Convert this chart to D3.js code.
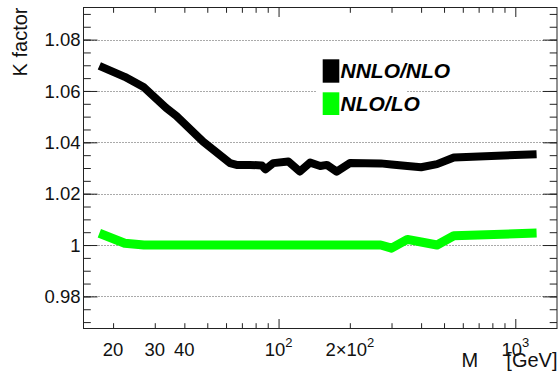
<!DOCTYPE html>
<html>
<head>
<meta charset="utf-8">
<script src="https://cdn.jsdelivr.net/npm/d3@7"></script>
<style>
  html, body { margin: 0; padding: 0; background: #fff; }
  svg { display: block; font-family: "Liberation Sans", Arial, Helvetica, sans-serif; }
</style>
</head>
<body>
<svg id="chart" width="560" height="372"></svg>
<script>
// Invariant mass points [GeV]
const masses = [17.5, 22.4, 27, 33.5, 37, 48, 62.4, 66.5, 75.7, 85, 88, 95, 110, 123, 136, 150, 160, 176, 200, 270, 300, 350, 400, 467, 550, 1230];
// K factor NNLO/NLO
const kNNLO = [1.0698, 1.0655, 1.0614, 1.0534, 1.0503, 1.0403, 1.0319, 1.0312, 1.0312, 1.0310, 1.0295, 1.0319, 1.0325, 1.0286, 1.0321, 1.0308, 1.0312, 1.0286, 1.0319, 1.0318, 1.0314, 1.0308, 1.0303, 1.0315, 1.0341, 1.0354];
// K factor NLO/LO
const kNLO = [1.0046, 1.0007, 1.0, 1.0, 1.0, 1.0, 1.0, 1.0, 1.0, 1.0, 1.0, 1.0, 1.0, 1.0, 1.0, 1.0, 1.0, 1.0, 1.0, 1.0, 0.9988, 1.0022, 1.0012, 1.0, 1.0036, 1.0047];

const seriesNames = ["NNLO/NLO", "NLO/LO"];
const seriesColors = ["#000000", "#00ff00"];

// Axis ticks and labels
const xMajorTicks = [100, 1000];
const xMinorTicks = [20, 30, 40, 50, 60, 70, 80, 90, 200, 300, 400, 500, 600, 700, 800, 900];
const xLabelValues = [20, 30, 40, 100, 200, 1000];
const xLabelBase = ["20", "30", "40", "10", "2\u00d710", "10"];
const xLabelExp = ["", "", "", "2", "2", "3"];
const yMajorTicks = [0.98, 1.0, 1.02, 1.04, 1.06, 1.08];
const yLabels = ["0.98", "1", "1.02", "1.04", "1.06", "1.08"];
const yMinorTicks = d3.range(0, 25).map(i => +(0.97 + i * 0.005).toFixed(3));

const svg = d3.select("#chart");
const L = 83.5, R = 557, T = 7.5, B = 328.5;

const x = d3.scaleLog().domain([15, 1500]).range([L, R]);
const y = d3.scaleLinear().domain([0.9675, 1.0925]).range([B, T]);

// dotted horizontal grid
svg.append("g").selectAll("line").data(yMajorTicks).join("line")
  .attr("x1", L).attr("x2", R)
  .attr("y1", d => Math.round(y(d)) + 0.5).attr("y2", d => Math.round(y(d)) + 0.5)
  .attr("stroke", "#555").attr("stroke-width", 1).attr("stroke-dasharray", "1,2");

// tick marks drawn inside the frame on all four sides
function noDomain(g) { g.select(".domain").remove(); g.selectAll("text").remove(); g.selectAll("line").attr("stroke", "#222"); }
svg.append("g").attr("transform", `translate(0,${B})`)
  .call(d3.axisBottom(x).tickValues(xMinorTicks).tickSize(-5.3).tickFormat("")).call(noDomain);
svg.append("g").attr("transform", `translate(0,${B})`)
  .call(d3.axisBottom(x).tickValues(xMajorTicks).tickSize(-9.5).tickFormat("")).call(noDomain);
svg.append("g").attr("transform", `translate(0,${T})`)
  .call(d3.axisTop(x).tickValues(xMinorTicks).tickSize(-5.3).tickFormat("")).call(noDomain);
svg.append("g").attr("transform", `translate(0,${T})`)
  .call(d3.axisTop(x).tickValues(xMajorTicks).tickSize(-9.5).tickFormat("")).call(noDomain);
svg.append("g").attr("transform", `translate(${L},0)`)
  .call(d3.axisLeft(y).tickValues(yMinorTicks).tickSize(-7.3).tickFormat("")).call(noDomain);
svg.append("g").attr("transform", `translate(${L},0)`)
  .call(d3.axisLeft(y).tickValues(yMajorTicks).tickSize(-14).tickFormat("")).call(noDomain);
svg.append("g").attr("transform", `translate(${R},0)`)
  .call(d3.axisRight(y).tickValues(yMinorTicks).tickSize(-7.3).tickFormat("")).call(noDomain);
svg.append("g").attr("transform", `translate(${R},0)`)
  .call(d3.axisRight(y).tickValues(yMajorTicks).tickSize(-14).tickFormat("")).call(noDomain);

// y tick labels
svg.append("g").selectAll("text").data(yMajorTicks).join("text")
  .attr("x", 80.5).attr("y", d => y(d) + 6.7)
  .attr("text-anchor", "end").attr("font-size", 18.5).attr("fill", "#111")
  .text((d, i) => yLabels[i]);

// x tick labels with exponents
const xl = svg.append("g").selectAll("text").data(xLabelValues).join("text")
  .attr("x", d => x(d)).attr("y", 355.5)
  .attr("text-anchor", "middle").attr("font-size", 18.5).attr("fill", "#111");
xl.append("tspan").text((d, i) => xLabelBase[i]);
xl.append("tspan").attr("font-size", 13).attr("dy", -8.5).text((d, i) => xLabelExp[i]);

// axis titles
svg.append("text").attr("transform", "translate(26.5,7.5) rotate(-90)")
  .attr("text-anchor", "end").attr("font-size", 20).attr("fill", "#111").text("K factor");
svg.append("text").attr("x", 461.5).attr("y", 366.5)
  .attr("font-size", 20).attr("fill", "#111").text("M");
svg.append("text").attr("x", 557.5).attr("y", 366.5).attr("text-anchor", "end")
  .attr("font-size", 20).attr("fill", "#111").text("[GeV]");

// curves
const line = d3.line().x(d => x(d[0])).y(d => y(d[1]));
const series = [kNNLO, kNLO];
const widths = [8, 9];
series.forEach((vals, i) => {
  svg.append("path")
    .datum(masses.map((m, j) => [m, vals[j]]))
    .attr("d", line)
    .attr("fill", "none")
    .attr("stroke", seriesColors[i])
    .attr("stroke-width", widths[i])
    .attr("stroke-linecap", "butt")
    .attr("stroke-linejoin", "round");
});

// legend
const lg = svg.append("g");
lg.append("rect").attr("x", 317).attr("y", 54).attr("width", 89.5).attr("height", 66).attr("fill", "#fff");
const legendY = [59.3, 92.3];
const legendH = [23.4, 22.7];
const legendBase = [77.5, 111];
seriesNames.forEach((name, i) => {
  lg.append("rect").attr("x", 322.7).attr("y", legendY[i]).attr("width", 16.6).attr("height", legendH[i])
    .attr("fill", seriesColors[i]);
  lg.append("text").attr("x", 340.5).attr("y", legendBase[i])
    .attr("font-size", 21).attr("font-weight", "bold").attr("font-style", "italic").attr("fill", "#000")
    .text(name);
});

// frame
svg.append("rect").attr("x", L).attr("y", T).attr("width", R - L).attr("height", B - T)
  .attr("fill", "none").attr("stroke", "#222").attr("stroke-width", 1);
</script>
</body>
</html>
